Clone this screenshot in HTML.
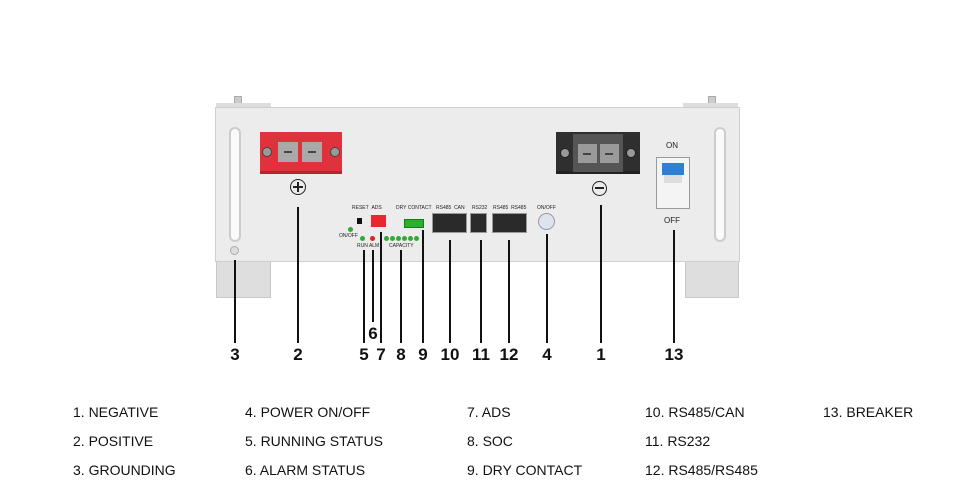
<!DOCTYPE html>
<html><head><meta charset="utf-8"><style>
body{margin:0;width:966px;height:500px;background:#fff;position:relative;overflow:hidden;font-family:"Liberation Sans",sans-serif}
div{position:absolute;box-sizing:border-box}
.l{background:#111;width:2px}
.n{font-weight:bold;font-size:17px;color:#111;width:30px;text-align:center;margin-left:-15px}
.t{font-size:5px;color:#222;white-space:nowrap}
.g{font-size:14px;color:#111;white-space:nowrap}
.led{width:5px;height:5px;border-radius:50%;background:#3a3}
.rj{background:#2a2a2a;border:1px solid #999}
</style></head><body>
<!-- knobs -->
<div style="left:234px;top:96px;width:8px;height:12px;background:#ccc;border:1px solid #aaa"></div>
<div style="left:708px;top:96px;width:8px;height:12px;background:#ccc;border:1px solid #aaa"></div>
<div style="left:216px;top:103px;width:55px;height:5px;background:#ddd"></div>
<div style="left:683px;top:103px;width:55px;height:5px;background:#ddd"></div>
<!-- brackets -->
<div style="left:216px;top:260px;width:55px;height:38px;background:#dedede;border:1px solid #c8c8c8"></div>
<div style="left:685px;top:260px;width:54px;height:38px;background:#dedede;border:1px solid #c8c8c8"></div>
<!-- panel -->
<div style="left:215px;top:107px;width:525px;height:155px;background:#ececec;border:1px solid #cfcfcf"></div>
<!-- handles -->
<div style="left:229px;top:127px;width:12px;height:115px;border-radius:6px;background:#fafafa;border:2px solid #ccc"></div>
<div style="left:714px;top:127px;width:12px;height:115px;border-radius:6px;background:#fafafa;border:2px solid #ccc"></div>
<div style="left:230px;top:246px;width:9px;height:9px;border-radius:50%;background:#ddd;border:1px solid #aaa"></div>
<!-- positive terminal -->
<div style="left:260px;top:132px;width:82px;height:42px;background:#e0323c;border-bottom:3px solid #b82430"></div>
<div style="left:278px;top:142px;width:20px;height:20px;background:#a9a9a9"></div>
<div style="left:302px;top:142px;width:20px;height:20px;background:#a9a9a9"></div>
<div style="left:284px;top:151px;width:8px;height:2px;background:#444"></div>
<div style="left:308px;top:151px;width:8px;height:2px;background:#444"></div>
<div style="left:262px;top:147px;width:10px;height:10px;border-radius:50%;background:#999;border:1px solid #444"></div>
<div style="left:330px;top:147px;width:10px;height:10px;border-radius:50%;background:#999;border:1px solid #444"></div>
<div style="left:290px;top:179px;width:16px;height:16px;border-radius:50%;border:1.5px solid #222"></div>
<div style="left:293px;top:186px;width:10px;height:2px;background:#222"></div>
<div style="left:297px;top:182px;width:2px;height:10px;background:#222"></div>
<!-- negative terminal -->
<div style="left:556px;top:132px;width:84px;height:42px;background:#2f2f2f;border-bottom:3px solid #222"></div>
<div style="left:573px;top:134px;width:50px;height:38px;background:#555"></div>
<div style="left:578px;top:144px;width:19px;height:19px;background:#9a9a9a"></div>
<div style="left:600px;top:144px;width:19px;height:19px;background:#9a9a9a"></div>
<div style="left:583px;top:153px;width:8px;height:2px;background:#444"></div>
<div style="left:605px;top:153px;width:8px;height:2px;background:#444"></div>
<div style="left:560px;top:148px;width:10px;height:10px;border-radius:50%;background:#999;border:1px solid #222"></div>
<div style="left:626px;top:148px;width:10px;height:10px;border-radius:50%;background:#999;border:1px solid #222"></div>
<div style="left:592px;top:181px;width:15px;height:15px;border-radius:50%;border:1.5px solid #222"></div>
<div style="left:595px;top:187px;width:9px;height:2px;background:#222"></div>
<!-- breaker -->
<div class="t" style="left:666px;top:141px;font-size:8px">ON</div>
<div style="left:656px;top:157px;width:34px;height:52px;background:#f4f4f4;border:1px solid #999"></div>
<div style="left:662px;top:163px;width:22px;height:12px;background:#2f7fd6"></div>
<div style="left:664px;top:175px;width:18px;height:8px;background:#ddd"></div>
<div class="t" style="left:664px;top:216px;font-size:8px">OFF</div>
<!-- controls -->
<div class="t" style="left:352px;top:205px">RESET&nbsp;&nbsp;ADS</div>
<div style="left:357px;top:218px;width:5px;height:6px;background:#111"></div>
<div style="left:371px;top:215px;width:15px;height:12px;background:#e8282e"></div>
<div class="led" style="left:348px;top:227px"></div>
<div class="t" style="left:339px;top:233px">ON/OFF</div>
<div class="led" style="left:360px;top:236px"></div>
<div class="led" style="left:370px;top:236px;background:#d22"></div>
<div class="t" style="left:357px;top:243px">RUN ALM</div>
<div class="led" style="left:384px;top:236px"></div><div class="led" style="left:390px;top:236px"></div><div class="led" style="left:396px;top:236px"></div><div class="led" style="left:402px;top:236px"></div><div class="led" style="left:408px;top:236px"></div><div class="led" style="left:414px;top:236px"></div>
<div class="t" style="left:389px;top:243px">CAPACITY</div>
<div class="t" style="left:396px;top:205px">DRY CONTACT</div>
<div style="left:404px;top:219px;width:20px;height:9px;background:#2ab02a;border:1px solid #1a7a1a"></div>
<div class="t" style="left:436px;top:205px">RS485&nbsp;&nbsp;CAN</div>
<div class="rj" style="left:432px;top:213px;width:35px;height:20px"></div>
<div class="t" style="left:472px;top:205px">RS232</div>
<div class="rj" style="left:470px;top:213px;width:17px;height:20px"></div>
<div class="t" style="left:493px;top:205px">RS485&nbsp;&nbsp;RS485</div>
<div class="rj" style="left:492px;top:213px;width:35px;height:20px"></div>
<div class="t" style="left:537px;top:205px">ON/OFF</div>
<div style="left:538px;top:213px;width:17px;height:17px;border-radius:50%;background:#dde4ee;border:1px solid #99a"></div>
<!-- leader lines -->
<div class="l" style="left:234px;top:260px;height:83px"></div>
<div class="l" style="left:297px;top:207px;height:136px"></div>
<div class="l" style="left:363px;top:250px;height:93px"></div>
<div class="l" style="left:372px;top:250px;height:72px"></div>
<div class="l" style="left:380px;top:232px;height:111px"></div>
<div class="l" style="left:400px;top:250px;height:93px"></div>
<div class="l" style="left:422px;top:230px;height:113px"></div>
<div class="l" style="left:449px;top:240px;height:103px"></div>
<div class="l" style="left:480px;top:240px;height:103px"></div>
<div class="l" style="left:508px;top:240px;height:103px"></div>
<div class="l" style="left:546px;top:234px;height:109px"></div>
<div class="l" style="left:600px;top:205px;height:138px"></div>
<div class="l" style="left:673px;top:230px;height:113px"></div>
<!-- numbers -->
<div class="n" style="left:235px;top:345px">3</div>
<div class="n" style="left:298px;top:345px">2</div>
<div class="n" style="left:364px;top:345px">5</div>
<div class="n" style="left:373px;top:324px">6</div>
<div class="n" style="left:381px;top:345px">7</div>
<div class="n" style="left:401px;top:345px">8</div>
<div class="n" style="left:423px;top:345px">9</div>
<div class="n" style="left:450px;top:345px">10</div>
<div class="n" style="left:481px;top:345px">11</div>
<div class="n" style="left:509px;top:345px">12</div>
<div class="n" style="left:547px;top:345px">4</div>
<div class="n" style="left:601px;top:345px">1</div>
<div class="n" style="left:674px;top:345px">13</div>
<!-- legend -->
<div class="g" style="left:73px;top:404px">1. NEGATIVE</div>
<div class="g" style="left:73px;top:433px">2. POSITIVE</div>
<div class="g" style="left:73px;top:462px">3. GROUNDING</div>
<div class="g" style="left:245px;top:404px">4. POWER ON/OFF</div>
<div class="g" style="left:245px;top:433px">5. RUNNING STATUS</div>
<div class="g" style="left:245px;top:462px">6. ALARM STATUS</div>
<div class="g" style="left:467px;top:404px">7. ADS</div>
<div class="g" style="left:467px;top:433px">8. SOC</div>
<div class="g" style="left:467px;top:462px">9. DRY CONTACT</div>
<div class="g" style="left:645px;top:404px">10. RS485/CAN</div>
<div class="g" style="left:645px;top:433px">11. RS232</div>
<div class="g" style="left:645px;top:462px">12. RS485/RS485</div>
<div class="g" style="left:823px;top:404px">13. BREAKER</div>
</body></html>
